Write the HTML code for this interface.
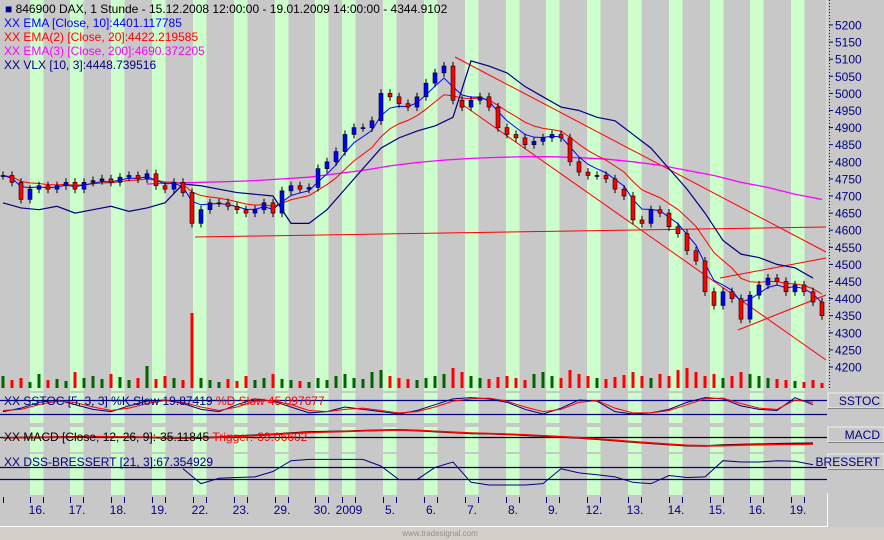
<!DOCTYPE html>
<html><head><meta charset="utf-8"><style>
html,body{margin:0;padding:0;background:#c8c8c8;}
svg{display:block;font-family:"Liberation Sans",sans-serif;}
</style></head><body>
<svg id="c" width="884" height="540" viewBox="0 0 884 540" xmlns="http://www.w3.org/2000/svg">
<rect x="0" y="0" width="884" height="540" fill="#c8c8c8"/>
<rect x="0" y="527" width="884" height="13" fill="#d4d0c8"/>
<line x1="0" y1="526.5" x2="827" y2="526.5" stroke="#fff"/>
<line x1="827.5" y1="493" x2="827.5" y2="527" stroke="#fff"/>
<g id="bands"></g>
<g id="grid"></g>
<g id="main"></g>
<g id="subs"></g>
<g id="axis"></g>
<g id="legend" font-size="12">
<text x="5" y="13" fill="#000"><tspan fill="#000080">■</tspan> 846900  DAX, 1 Stunde - 15.12.2008 12:00:00 - 19.01.2009 14:00:00 - 4344.9102</text>
<text x="4" y="27" fill="#0000ff">XX EMA [Close, 10]:4401.117785</text>
<text x="4" y="41" fill="#ff0000">XX EMA(2) [Close, 20]:4422.219585</text>
<text x="4" y="55" fill="#ff00ff">XX EMA(3) [Close, 200]:4690.372205</text>
<text x="4" y="69" fill="#000080">XX VLX [10, 3]:4448.739516</text>
</g>
</svg>
<script>
const NS="http://www.w3.org/2000/svg";
// ---- data ----
const closes=[4760,4740,4690,4720,4730,4720,4730,4740,4720,4740,4745,4750,4740,4755,4760,4750,4765,4730,4720,4740,4710,4620,4660,4680,4680,4670,4660,4650,4660,4680,4650,4715,4730,4720,4725,4780,4800,4830,4880,4900,4900,4920,5000,4990,4970,4960,4990,5030,5060,5080,4980,4960,4980,4990,4960,4900,4880,4870,4850,4860,4870,4880,4870,4800,4770,4760,4760,4750,4720,4700,4630,4620,4660,4650,4610,4590,4540,4510,4420,4380,4420,4400,4340,4410,4440,4460,4450,4420,4440,4420,4390,4350];
const volumes=[12,8,10,6,14,8,9,7,16,10,12,9,14,11,8,10,22,9,12,10,8,75,10,8,6,9,7,12,8,10,14,9,8,7,6,10,8,12,14,10,9,16,18,12,10,9,8,10,12,14,20,16,12,10,9,11,12,10,8,14,16,12,10,18,14,12,10,9,11,13,16,12,10,14,12,18,20,16,12,14,10,12,16,14,12,10,9,8,7,6,8,5];
const vlx=[4680,4665,4660,4670,4650,4660,4670,4655,4665,4680,4735,4730,4720,4710,4705,4700,4620,4620,4660,4720,4780,4840,4870,4890,4905,4930,5095,5080,5060,5020,4990,4960,4950,4930,4920,4880,4840,4780,4720,4650,4570,4530,4520,4500,4490,4460];
const ema200Start=16;
const ema200=[4735,4738,4740,4742,4745,4750,4755,4765,4775,4788,4798,4805,4810,4813,4815,4815,4812,4808,4800,4790,4775,4760,4740,4725,4705,4690];
const stochK=[30,45,70,80,60,40,30,55,75,80,65,40,30,60,85,75,50,25,30,50,40,30,20,35,60,85,90,85,70,40,20,45,80,75,30,20,25,40,70,90,85,55,40,35,90,60];
const stochD=[35,40,60,75,70,50,35,45,65,78,70,50,35,50,75,78,60,35,30,40,45,35,25,30,50,75,85,88,75,50,30,40,70,78,45,25,25,35,60,85,88,65,45,40,80,70];
const macdVals=[-5,-3,-2,0,1,2,1,0,-2,-5,-6,-4,0,5,10,15,22,28,30,32,35,38,40,36,30,25,20,18,15,10,5,0,-5,-12,-20,-28,-35,-42,-48,-50,-45,-42,-40,-38,-36,-35];
const macdTrig=[-4,-4,-2,-1,0,1,1,0,-1,-3,-5,-5,-2,3,8,13,19,25,28,31,34,37,39,37,32,27,22,19,16,12,7,2,-3,-10,-18,-26,-33,-40,-46,-49,-48,-45,-43,-41,-40,-39];
const dssVals=[null,null,null,null,null,null,null,null,null,null,60,5,25,28,30,50,90,95,95,95,95,70,20,20,65,85,10,0,0,0,5,60,45,38,30,10,5,35,28,30,90,85,85,90,88,75];
const dayLabels=["16.","17.","18.","19.","22.","23.","29.","30.","2009","5.","6.","7.","8.","9.","12.","13.","14.","15.","16.","19."];
const yTicks=[5200,5150,5100,5050,5000,4950,4900,4850,4800,4750,4700,4650,4600,4550,4500,4450,4400,4350,4300,4250,4200];
const bandStarts=[30,70,111,152,193,234,275,315,342,383,424,465,506,546,587,628,669,710,750,791];
// ---- scales ----
const xBar=i=>3+i*9;
const yP=v=>25+(5200-v)*0.342;
const ySt=v=>414-(v-20)/60*14;
const yMacd=v=>437-v*0.18;
const yDss=v=>485-v*0.27;
function el(tag,attrs,parent){const e=document.createElementNS(NS,tag);for(const k in attrs)e.setAttribute(k,attrs[k]);parent.appendChild(e);return e;}
const bands=document.getElementById('bands'),grid=document.getElementById('grid'),main=document.getElementById('main'),subs=document.getElementById('subs'),axis=document.getElementById('axis');
const panels=[[0,391],[393,423],[427,452],[454,495]];
bandStarts.forEach((b,k)=>{panels.forEach(p=>{
 const r=el('rect',{x:b,y:p[0],width:13.5,height:p[1]-p[0],fill:'#ccffcc'},bands);
 
 
});});
[[400],[414],[437],[467],[479]].forEach(a=>{
 const l=el('line',{x1:0,x2:827,y1:a[0]+0.5,y2:a[0]+0.5,stroke:a[0]===437?'#000':'#000080','stroke-width':1.2},grid);
 
 
});
closes.forEach((c,i)=>{
 const o=i?closes[i-1]:c;
 const r=el('rect',{x:xBar(i)-1.5,y:388-volumes[i],width:3,height:volumes[i],fill:c>=o?'#006400':'#ff0000'},main);
 
 
});
[[455,57,826,252],[463,105,826,360],[195,237,826,227],[720,278,826,258],[738,330,826,295]].forEach(t=>{
 const l=el('line',{x1:t[0],y1:t[1],x2:t[2],y2:t[3],stroke:'#ff0000','stroke-width':1},main);
 
 
});
function ema(arr,n){const k=2/(n+1);let e=arr[0];return arr.map(v=>e=v*k+e*(1-k));}
function poly(pts,color,name,parent,w){
 const p=el('polyline',{points:pts.map(q=>q.join(',')).join(' '),fill:'none',stroke:color,'stroke-width':w||1},parent);
 
 
}
poly(ema200.map((v,i)=>[xBar(ema200Start+i*3),yP(v)]),'#ff00ff','ema200-line',main,1.3);
poly(ema(closes,9).map((v,i)=>[xBar(i),yP(v)]),'#ff0000','ema20-line',main);
poly(ema(closes,4).map((v,i)=>[xBar(i),yP(v)]),'#0000ff','ema10-line',main);
poly(vlx.map((v,i)=>[xBar(i*2),yP(v)]),'#000080','vlx-line',main,1.2);
closes.forEach((c,i)=>{
 const o=i?closes[i-1]:c;
 const hi=Math.max(o,c)+12,lo=Math.min(o,c)-12;
 const x=xBar(i);
 const w=el('line',{x1:x,x2:x,y1:yP(hi),y2:yP(lo),stroke:'#000'},main);
 
 
 const top=yP(Math.max(o,c)),h=Math.max(1,Math.abs(yP(o)-yP(c)));
 const r=el('rect',{x:x-2,y:top,width:4,height:h,fill:c>=o?'#0000ff':'#ff0000',stroke:'#000','stroke-width':0.6},main);
 
 
});
poly(stochK.map((v,i)=>[xBar(i*2),ySt(v)]),'#000080','sstoc-k-line',subs);
poly(stochD.map((v,i)=>[xBar(i*2),ySt(v)]),'#ff0000','sstoc-d-line',subs);
poly(macdVals.map((v,i)=>[xBar(i*2),yMacd(v)]),'#000000','macd-line',subs,1.6);
poly(macdTrig.map((v,i)=>[xBar(i*2),yMacd(v)]),'#ff0000','macd-trigger-line',subs,1.6);
const dpts=[];dssVals.forEach((v,i)=>{if(v!==null)dpts.push([xBar(i*2),yDss(v)]);});
poly(dpts,'#000080','dss-line',subs);
[["XX SSTOC [5, 3, 3] %K Slow 19.87419 ",'#000080',405,"%D Slow 45.097677",'#ff0000','sstoc-label'],
 ["XX MACD [Close, 12, 26, 9]:-35.11845 ",'#000',441,"Trigger:-39.06602",'#ff0000','macd-label'],
 ["XX DSS-BRESSERT [21, 3]:67.354929",'#000080',466,"",'#000','dss-label']].forEach(a=>{
 const t=el('text',{x:4,y:a[2],fill:a[1],'font-size':12},subs);t.textContent=a[0];
 if(a[3]){const s=el('tspan',{fill:a[4]},t);s.textContent=a[3];}
 
 
});
el('line',{x1:829.5,x2:829.5,y1:0,y2:388,stroke:'#000080','stroke-dasharray':'1,2'},axis);
el('line',{x1:827,x2:827,y1:0,y2:391,stroke:'#e0f0e0'},axis);
yTicks.forEach(v=>{
 const y=yP(v);
 el('line',{x1:829,x2:833,y1:y,y2:y,stroke:'#000080'},axis);
 const t=el('text',{x:835,y:y+4.5,fill:'#000080','font-size':12},axis);t.textContent=v;
 
 
});
[["SSTOC",393,'sstoc-panel-button'],["MACD",427,'macd-panel-button'],["BRESSERT",454,'dss-panel-button']].forEach(a=>{
 el('rect',{x:828,y:a[1],width:56,height:15,fill:'#c8c8c8',stroke:'#f0f0f0'},axis);
 el('line',{x1:828,x2:884,y1:a[1]+15.5,y2:a[1]+15.5,stroke:'#808080'},axis);
 const t=el('text',{x:880,y:a[1]+12,fill:'#000080','font-size':12,'text-anchor':'end'},axis);t.textContent=a[0];
 
 
});
el('line',{x1:3.5,x2:3.5,y1:497,y2:503,stroke:'#000080'},axis);
bandStarts.forEach((b,k)=>{
 el('line',{x1:b+0.5,x2:b+0.5,y1:497,y2:503,stroke:'#000080'},axis);
 el('line',{x1:b+13.5,x2:b+13.5,y1:497,y2:503,stroke:'#000080'},axis);
 const t=el('text',{x:b+7,y:514,fill:'#000080','font-size':12,'text-anchor':'middle'},axis);t.textContent=dayLabels[k];
 
 
});
const wm=el('text',{x:440,y:536,fill:'#909090','font-size':8,'text-anchor':'middle'},axis);wm.textContent="www.tradesignal.com";


</script>
</body></html>
